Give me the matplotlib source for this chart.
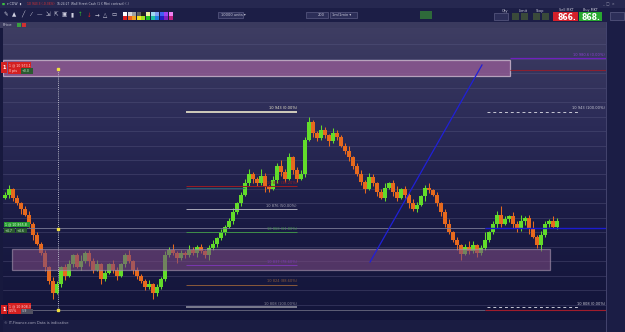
import numpy as np
import matplotlib.pyplot as plt
from matplotlib.patches import Rectangle
from matplotlib.colors import LinearSegmentedColormap
from matplotlib.transforms import blended_transform_factory

W, H = 625, 332

# --- velas: cierres y mechas (puntos) ---
cierres = [10886, 10890, 10884, 10880, 10876, 10872, 10866, 10858, 10852, 10846,
           10836, 10826, 10818, 10824, 10836, 10830, 10838, 10844, 10836, 10840,
           10846, 10840, 10834, 10838, 10828, 10832, 10838, 10834, 10830, 10838,
           10844, 10840, 10834, 10830, 10826, 10822, 10824, 10818, 10822, 10828,
           10844, 10848, 10846, 10842, 10846, 10844, 10848, 10846, 10850, 10847,
           10844, 10849, 10852, 10856, 10860, 10864, 10868, 10874, 10880, 10886,
           10894, 10900, 10897, 10894, 10899, 10892, 10890, 10896, 10906, 10902,
           10897, 10912, 10903, 10897, 10900, 10924, 10936, 10929, 10925, 10931,
           10927, 10923, 10929, 10926, 10920, 10916, 10912, 10906, 10900, 10895,
           10890, 10898, 10894, 10888, 10884, 10891, 10894, 10888, 10884, 10890,
           10886, 10880, 10876, 10879, 10885, 10891, 10889, 10886, 10880, 10874,
           10866, 10860, 10855, 10851, 10845, 10850, 10847, 10851, 10846, 10849,
           10855, 10860, 10866, 10872, 10866, 10869, 10871, 10866, 10862, 10868,
           10870, 10863, 10857, 10851, 10858, 10866, 10868, 10864, 10868]
mecha_arriba = [2, 3, 1, 2, 1, 2, 3, 1, 2, 1,
                2, 1, 3, 2, 1, 2, 3, 1, 2, 4,
                1, 2, 2, 3, 1, 2, 1, 3, 2, 1,
                2, 4, 1, 2, 1, 2, 3, 1, 2, 1,
                3, 2, 4, 1, 2, 1, 3, 2, 1, 2,
                1, 2, 3, 1, 2, 1, 2, 3, 1, 2,
                3, 4, 2, 1, 5, 2, 1, 3, 2, 4,
                2, 3, 1, 2, 3, 2, 4, 2, 1, 3,
                2, 1, 3, 2, 1, 2, 4, 1, 2, 3,
                1, 3, 2, 1, 2, 3, 1, 2, 4, 1,
                2, 1, 3, 2, 1, 2, 3, 1, 2, 1,
                2, 3, 1, 2, 1, 2, 4, 3, 1, 2,
                5, 1, 2, 3, 6, 2, 1, 3, 2, 4,
                1, 2, 5, 1, 3, 2, 1, 3, 2]
mecha_abajo = [1, 2, 2, 1, 3, 1, 2, 3, 1, 2,
               3, 2, 4, 1, 2, 3, 1, 2, 1, 2,
               1, 3, 2, 1, 4, 2, 1, 2, 3, 1,
               2, 1, 3, 2, 1, 2, 1, 4, 2, 1,
               2, 1, 2, 3, 1, 2, 1, 2, 3, 1,
               2, 3, 1, 2, 1, 2, 1, 2, 1, 2,
               1, 2, 3, 2, 1, 4, 2, 1, 2, 3,
               2, 1, 3, 2, 1, 2, 1, 3, 2, 1,
               2, 3, 1, 2, 1, 2, 3, 2, 1, 2,
               3, 1, 2, 3, 1, 2, 1, 3, 2, 1,
               2, 3, 1, 2, 1, 3, 2, 1, 2, 3,
               2, 1, 2, 3, 4, 1, 2, 1, 3, 2,
               1, 2, 1, 3, 2, 1, 2, 3, 2, 1,
               3, 4, 1, 2, 4, 1, 2, 1, 2]
apertura_inicial = 10884

# --- zonas y niveles ---
zona_arriba = (10968.2, 10979.2, -0.5, 126.25)   # precio bajo, precio alto, idx ini, idx fin
zona_abajo = (10834.0, 10848.4, 1.75, 136.25)
fib_alto, fib_bajo = 10943.3, 10808.3
fib_ratios = [0.0, 38.2, 50.0, 61.8, 78.6, 88.6, 100.0]
fib_colores = ['#ece8cc', '#9a1c24', '#a8a8b8', '#3f8f4a', '#7a38b0', '#8a5a3a', '#8c8c9c']
tendencia = [(91.25, 10839.4), (119.25, 10975.8)]
precio_actual = 10866.5
nivel_orden = 10863.0
nivel_stop = 10806.2
nivel_limite = 10972.3
nivel_morado = 10980.6

horas = ['15:02', '16:01', '17:01', '18:01', '19:03', '20:01', '21:00', '16', '02:04', '04:03',
         '07:00', '09:01', '10:00', '11:03', '12:00', '13:02', '14:01', '15:00', '16:01', '17:02',
         '18:00', '19:01']
horas_idx = [2, 16, 30, 39.5, 46.5, 53.75, 62.75, 73.5, 78.25, 82.25,
             86.25, 90.25, 98, 104, 107.5, 111.25, 116, 121, 132.25, 140.5,
             144.75, 148.25]


def fx(px):
    return px / W


def fy(py):
    return 1 - py / H


def rect_px(x0, y0, x1, y1, color, **kw):
    fig.add_artist(Rectangle((fx(x0), fy(y1)), (x1 - x0) / W, (y1 - y0) / H,
                             transform=fig.transFigure, facecolor=color, **kw))


def txt_px(x, y, s, color='#c8c8d8', size=3.2, **kw):
    fig.text(fx(x), fy(y), s, color=color, fontsize=size, va='center', **kw)


fig = plt.figure(figsize=(W / 100, H / 100), dpi=100)
fig.patch.set_facecolor('#17193e')

# barras superiores
rect_px(0, 0, W, 8, '#262850')
rect_px(0, 8, W, 22, '#1c1e46')
rect_px(0, 22, 606, 28, '#3a3a5e')
txt_px(2, 4, '■', color='#3cc040', size=2.3)
txt_px(7, 4, '▾ CDW  ▮', size=2.3)
txt_px(27, 4, '10 943.3 (-0.36%)', color='#e03030', size=2.2)
txt_px(57, 4, '16:24:27', size=2.2)
txt_px(71, 4, 'Wall Street Cash (1 € Mini contract) (-)', size=2.2)
txt_px(602, 4, '_  □  ×', color='#9090a8', size=2.6)
for k, s in enumerate(['✎', '▲', '╱', '⁄', '—', '⇲', '⇱', '▣', '▮', '↑', '↓', '→', '△', '▭']):
    col = {'↑': '#30c030', '↓': '#e02020'}.get(s, '#d0d0e0')
    txt_px(6 + k * 8.3, 15, s, color=col, size=4, ha='center')
paleta = ['#ffffff', '#d8d8d8', '#a0a0a0', '#606060', '#202020', '#f0f0a0', '#a0d8f0', '#80a0f0',
          '#4060f0', '#a040f0', '#f080f0', '#e02020', '#f06020', '#f0a020', '#f0e020', '#a0e020',
          '#20c020', '#20c0a0', '#2080e0', '#2020c0', '#8020c0', '#c02080']
for k, c in enumerate(paleta):
    rect_px(123 + (k % 11) * 4.6, 12 + (k // 11) * 4.2, 127 + (k % 11) * 4.6, 16 + (k // 11) * 4.2, c)
rect_px(218, 12, 243, 18, '#2c2e58', edgecolor='#6a6a90', linewidth=0.4)
txt_px(221, 15, '10000 units ▾', size=2.6)
rect_px(306, 12, 328, 18, '#2c2e58', edgecolor='#6a6a90', linewidth=0.4)
txt_px(318, 15, '200', size=2.6)
rect_px(330, 12, 357, 18, '#2c2e58', edgecolor='#6a6a90', linewidth=0.4)
txt_px(332, 15, '1m/1min ▾', size=2.6)
rect_px(420, 11, 432, 19, '#2e6a3a')
txt_px(502, 11, 'Qty', size=2.6)
rect_px(494, 13, 508, 20, '#2c2e58', edgecolor='#6a6a90', linewidth=0.4)
txt_px(519, 11, 'Limit', size=2.6)
rect_px(512, 13, 519, 20, '#3a4a3a')
rect_px(521, 13, 528, 20, '#3a4a3a')
txt_px(536, 11, 'Stop', size=2.6)
rect_px(533, 13, 540, 20, '#3a4a3a')
rect_px(542, 13, 549, 20, '#3a4a3a')
rect_px(553, 12, 578, 21, '#d4202a')
txt_px(559, 10, 'Sell MKT', size=2.4)
txt_px(557, 17, '866.', color='white', size=5.5, weight='bold')
rect_px(579, 12, 602, 21, '#28a830')
txt_px(583, 10, 'Buy MKT', size=2.4)
txt_px(582, 17, '868.', color='white', size=5.5, weight='bold')
rect_px(610, 12, 624, 20, '#2c2e58', edgecolor='#6a6a90', linewidth=0.4)
txt_px(3, 25, 'Price', size=2.8)
rect_px(17, 23, 21, 27, '#3aa040')
rect_px(22, 23, 26, 27, '#d03030')

# zona del grafico
ax = fig.add_axes([fx(3), fy(320), (606 - 3) / W, (320 - 28) / H])
x0, x1 = -0.5, 150.25
y_top = 11000 + 2 / 1.445
y_bot = 11000 - 290 / 1.445
ax.set_xlim(x0, x1)
ax.set_ylim(y_bot, y_top)
ax.axis('off')

fondo = LinearSegmentedColormap.from_list('fondo', ['#3e3d62', '#2b2b57', '#1a1b44', '#13153a'])
ax.imshow(np.linspace(0, 1, 256).reshape(-1, 1), cmap=fondo, aspect='auto',
          extent=[x0, x1, y_bot, y_top], zorder=0)
for p in np.arange(10810, 11000, 10):
    ax.axhline(p, color='#5a5a82', lw=0.5, alpha=0.55, zorder=1)

# velas
cierres = np.array(cierres)
aperturas = np.concatenate(([apertura_inicial], cierres[:-1]))
idx = np.arange(len(cierres))
sube = cierres >= aperturas
colores = np.where(sube, '#62dc2a', '#e6691e')
altos = np.maximum(aperturas, cierres) + np.array(mecha_arriba)
bajos = np.minimum(aperturas, cierres) - np.array(mecha_abajo)
ax.vlines(idx, bajos, altos, colors=colores, lw=0.75, zorder=3)
cuerpo = np.maximum(np.abs(cierres - aperturas), 0.8)
ax.bar(idx, cuerpo, bottom=np.minimum(aperturas, cierres), width=0.8, color=colores, zorder=3)

# zonas rectangulares
pb, pa, i0, i1 = zona_arriba
ax.add_patch(Rectangle((i0, pb), i1 - i0, pa - pb, facecolor='#9a5e98', alpha=0.75,
                       edgecolor='#d6c2d6', lw=0.9, zorder=4))
pb, pa, i0, i1 = zona_abajo
ax.add_patch(Rectangle((i0, pb), i1 - i0, pa - pb, facecolor='#7a4a80', alpha=0.6,
                       edgecolor='#a898b0', lw=0.9, zorder=4))

# fibonacci izquierdo
rango = fib_alto - fib_bajo
for r, c in zip(fib_ratios, fib_colores):
    p = fib_alto - r / 100 * rango
    lw = 1.2 if r in (0.0, 100.0) else 0.7
    ax.hlines(p, 45.3, 73, color=c, lw=lw, zorder=5)
    ax.text(73, p + 1.0, f'{p:,.0f} ({r:.2f}%)'.replace(',', ' '), color=c, fontsize=2.6,
            ha='right', va='bottom', zorder=6)
ax.hlines(10890.7, 45.3, 60, color='#2a6878', lw=0.6, zorder=5)

# fibonacci derecho (discontinuo)
for p, r in [(fib_alto, 100.0), (fib_bajo, 0.0)]:
    ax.hlines(p, 120.5, 143.5, color='#c8c8d4', lw=0.7, linestyles=(0, (3, 3)), zorder=5)
    ax.text(150, p + 1.0, f'{p:,.0f} ({r:.2f}%)'.replace(',', ' '), color='#c8c8d4',
            fontsize=2.6, ha='right', va='bottom', zorder=6)

# lineas de ordenes
ax.hlines(nivel_orden, x0, 120, color='#7a7a96', lw=0.6, zorder=5)
ax.hlines(nivel_orden, 120, x1, color='#1c1cd0', lw=1.0, zorder=5)
ax.hlines(nivel_stop, x0, 120, color='#6a6a80', lw=0.6, zorder=5)
ax.hlines(nivel_stop, 120, x1, color='#a01c2c', lw=0.8, zorder=5)
ax.hlines(nivel_limite, 126.25, x1, color='#8a2030', lw=0.8, zorder=5)
ax.hlines(nivel_morado, 126.25, x1, color='#7020c0', lw=0.9, zorder=5)
ax.text(150, nivel_morado + 0.5, '10 980.6 (0.00%)', color='#8a40d0', fontsize=2.6,
        ha='right', va='bottom', zorder=6)

# linea de tendencia
(ta, pa_), (tb, pb_) = tendencia
ax.plot([ta, tb], [pa_, pb_], color='#2020d8', lw=0.9, zorder=5)

# linea vertical punteada
ax.vlines(13.25, nivel_stop, 10973.0, color='#b8b8c8', lw=0.7, linestyles=(0, (1, 1.2)), zorder=5)
ax.plot([13.25] * 3, [10973.0, 10862.3, nivel_stop], 's', color='#f0e040', ms=1.6, zorder=6)

# etiquetas de ordenes a la izquierda
rect_px(1, 62, 7, 73, '#d42020')
txt_px(2.5, 67.5, '1', color='white', size=3.5, weight='bold')
rect_px(8, 62, 31, 68, '#d42020')
txt_px(9, 65, '1 @ 10 973.1', color='#ffd8d8', size=2.3)
rect_px(8, 68, 21, 74, '#d42020')
txt_px(9, 71, '0 pts', color='#ffd8d8', size=2.3)
rect_px(21, 68, 33, 74, '#2a5a30')
txt_px(22, 71, '+0.0', color='#c8f0c8', size=2.3)
rect_px(4, 222, 30, 227, '#2a9a34')
txt_px(5, 224.5, '1 @ 10 865.8', color='#e0ffe0', size=2.3)
rect_px(4, 228, 15, 233, '#2a5a30')
txt_px(5, 230.5, '+4.7', color='#c8f0c8', size=2.3)
rect_px(16, 228, 27, 233, '#2a5a30')
txt_px(17, 230.5, '+4.6', color='#c8f0c8', size=2.3)
rect_px(1, 305, 7, 314, '#d42020')
txt_px(2.5, 309.5, '1', color='white', size=3.5, weight='bold')
rect_px(8, 303, 31, 309, '#d42020')
txt_px(9, 306, '1 @ 10 808.3', color='#ffd8d8', size=2.3)
rect_px(8, 309, 21, 314, '#d42020')
txt_px(9, 311.5, '0.5%', color='#ffd8d8', size=2.3)
rect_px(21, 309, 33, 314, '#505060')
txt_px(22, 311.5, '-59', color='#d0d0d8', size=2.3)

# eje de precios a la derecha
rect_px(606, 22, W, H, '#1b1d45')
fig.add_artist(plt.Line2D([fx(606), fx(606)], [fy(22), fy(332)], transform=fig.transFigure,
                          color='#4a4a74', lw=0.6))
tr = blended_transform_factory(ax.transAxes, ax.transData)
for p in np.arange(10800, 11001, 10):
    fuerte = p % 50 == 0
    ax.text(1.003, p, f'{p // 1000} {p % 1000:03d}', transform=tr, fontsize=2.9,
            color='white' if fuerte else '#b8b8cc', weight='bold' if fuerte else 'normal',
            va='center', ha='left', clip_on=False)
ax.text(1.002, precio_actual, '10 868', transform=tr, fontsize=2.0, color='#103010',
        va='center', ha='left', clip_on=False, zorder=7,
        bbox=dict(boxstyle='square,pad=0.12', fc='#70e040', ec='none'))

# eje de tiempo
rect_px(3, 320, 606, 332, '#1a1c42')
txt_px(4, 322.5, '© IT-Finance.com Data is indicative', color='#a8a8bc', size=2.6)
axt = fig.add_axes([fx(3), fy(332), (606 - 3) / W, 12 / H])
axt.set_xlim(x0, x1)
axt.set_ylim(0, 1)
axt.axis('off')
for h, i in zip(horas, horas_idx):
    axt.text(i, 0.35, h, fontsize=2.9, color='white' if h == '16' else '#b8b8cc',
             weight='bold' if h == '16' else 'normal', ha='center', va='center', clip_on=False)

fig.savefig('out.png', dpi=100, facecolor=fig.get_facecolor())
